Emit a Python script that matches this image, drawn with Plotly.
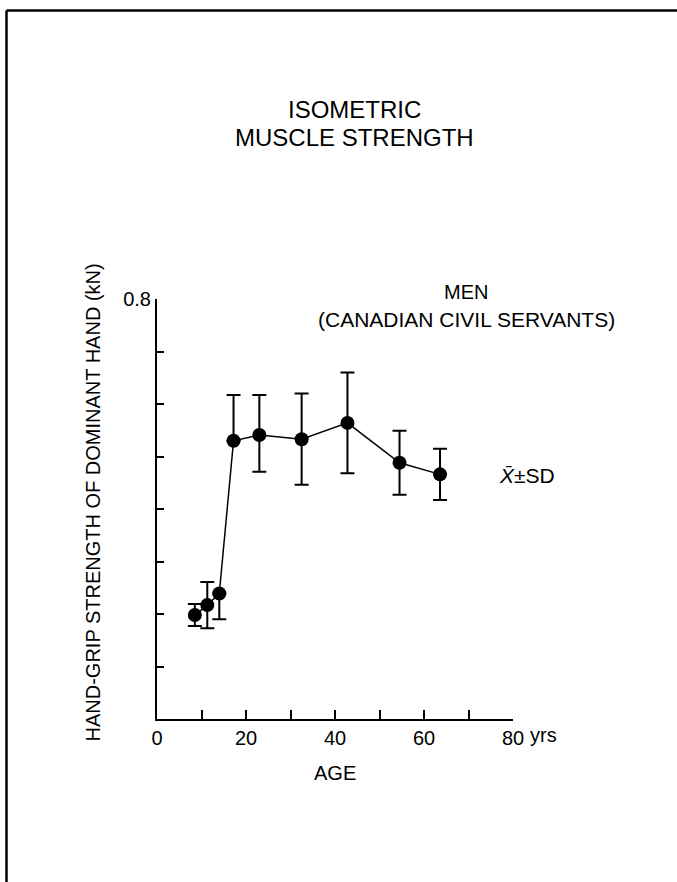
import plotly.graph_objects as go

# Hand-grip strength of the dominant hand by age (men, Canadian civil servants)
age = [8.5, 11.3, 14.0, 17.2, 23.0, 32.5, 42.8, 54.5, 63.6]
grip_mean = [0.198, 0.217, 0.239, 0.530, 0.541, 0.533, 0.564, 0.488, 0.466]
# upper / lower SD halves; halves hidden behind the steep segment are left out
sd_upper = [0.021, 0.044, 0.0, 0.087, 0.076, 0.087, 0.096, 0.061, 0.049]
sd_lower = [0.021, 0.044, 0.049, 0.0, 0.070, 0.087, 0.096, 0.061, 0.049]

x_ticks = [0, 10, 20, 30, 40, 50, 60, 70, 80]
x_ticktext = ["0", "", "20", "", "40", "", "60", "", "80"]
y_ticks = [0.0, 0.1, 0.2, 0.3, 0.4, 0.5, 0.6, 0.7, 0.8]
y_ticktext = ["", "", "", "", "", "", "", "", "0.8"]

FONT = "Liberation Sans, Arial, sans-serif"
W, H = 677, 882
L, R, T, B = 157, 164, 299, 163
pw, ph = W - L - R, H - T - B


def px(xp):
    return (xp - L) / pw


def py(yp):
    return (H - B - yp) / ph


def label(text, x, y, size=20, xanchor="center", angle=0):
    fig.add_annotation(text=text, x=px(x), y=py(y), xref="paper", yref="paper",
                       xanchor=xanchor, yanchor="middle", textangle=angle, showarrow=False,
                       font=dict(family=FONT, size=size, color="black"))


fig = go.Figure()
fig.add_trace(go.Scatter(
    x=age, y=grip_mean, mode="lines+markers",
    line=dict(color="black", width=1.5),
    marker=dict(color="black", size=14, symbol="circle"),
    error_y=dict(type="data", symmetric=False, array=sd_upper, arrayminus=sd_lower,
                 color="black", thickness=2, width=7),
    showlegend=False, cliponaxis=False,
))

label("ISOMETRIC", 354, 109, size=24)
label("MUSCLE STRENGTH", 354, 137, size=24)
label("MEN", 466, 292, size=20)
label("(CANADIAN CIVIL SERVANTS)", 466, 319, size=21)
label("<i>X\u0304</i>\u00b1SD", 497, 475, size=21, xanchor="left")
label("AGE", 335, 773, size=20)
label("yrs", 528, 735, size=20, xanchor="left")
label("HAND-GRIP STRENGTH OF DOMINANT HAND (kN)", 92.5, 503, size=20, angle=-90)

# page frame: top and left rules
fig.add_shape(type="line", xref="paper", yref="paper", x0=px(6.5), x1=px(W + 5), y0=py(10.5), y1=py(10.5),
              line=dict(color="black", width=2.5))
fig.add_shape(type="line", xref="paper", yref="paper", x0=px(6.5), x1=px(6.5), y0=py(10.5), y1=py(H + 5),
              line=dict(color="black", width=2.5))

fig.update_layout(
    width=W, height=H, margin=dict(l=L, r=R, t=T, b=B),
    paper_bgcolor="white", plot_bgcolor="white",
    font=dict(family=FONT, size=20, color="black"),
    xaxis=dict(range=[0, 80], tickvals=x_ticks, ticktext=x_ticktext, ticks="inside", ticklen=9,
               tickwidth=2, tickcolor="black", showline=True, linecolor="black", linewidth=2,
               showgrid=False, zeroline=False, tickfont=dict(family=FONT, size=20)),
    yaxis=dict(range=[0, 0.8], tickvals=y_ticks, ticktext=y_ticktext, ticks="inside", ticklen=7,
               tickwidth=2, tickcolor="black", showline=True, linecolor="black", linewidth=2,
               showgrid=False, zeroline=False, tickfont=dict(family=FONT, size=20)),
)

fig.write_html("out.html")
